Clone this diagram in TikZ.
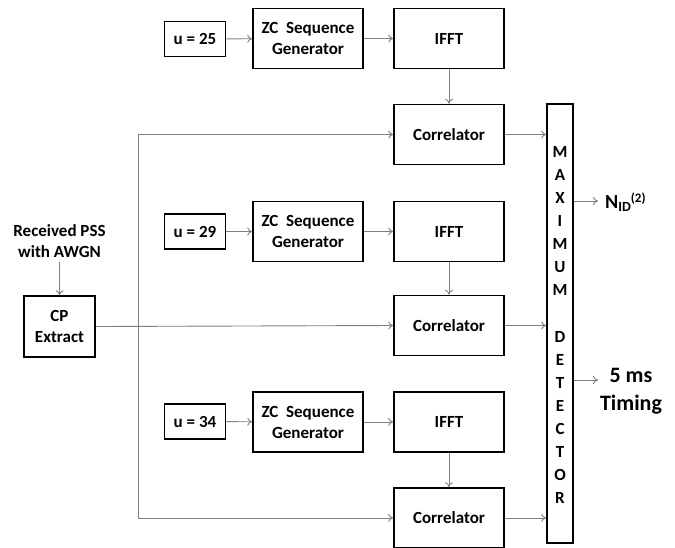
\documentclass[tikz,border=0pt]{standalone}
\usepackage{fontspec}
\setmainfont{Carlito}
\usetikzlibrary{arrows.meta}
\begin{document}
\begin{tikzpicture}[x=1pt,y=-1pt,
  blk/.style={draw=black,line width=1.6pt,minimum width=110pt,minimum height=60pt,inner sep=0pt,align=center,font=\fontsize{17}{21}\selectfont\bfseries},
  ubox/.style={blk,minimum width=61pt,minimum height=35pt},
  cpbox/.style={blk,minimum width=71pt,minimum height=61pt},
  mdbox/.style={draw=black,line width=1.6pt,minimum width=26pt,minimum height=439pt,inner sep=0pt},
  mdletter/.style={font=\fontsize{17}{17}\selectfont\bfseries,inner sep=0pt},
  gl/.style={draw=black!50,line width=0.9pt},
  arr/.style={gl,-{To[length=5pt,width=8pt]}},
  lbl/.style={font=\fontsize{17}{21}\selectfont\bfseries,align=center,inner sep=0pt}]
\useasboundingbox (0,0) rectangle (675,547);
% row 1
\node[ubox] (u1) at (195,39) {u = 25};
\node[blk] (zc1) at (308,38.5) {ZC\ \ Sequence\\Generator};
\node[blk] (if1) at (449,38.5) {IFFT};
\node[blk] (co1) at (449,134.5) {Correlator};
% row 2
\node[ubox] (u2) at (195,231.5) {u = 29};
\node[blk] (zc2) at (308,231.5) {ZC\ \ Sequence\\Generator};
\node[blk] (if2) at (449,231.5) {IFFT};
\node[blk] (co2) at (449,325.5) {Correlator};
% row 3
\node[ubox] (u3) at (195,421.5) {u = 34};
\node[blk] (zc3) at (308,422) {ZC\ \ Sequence\\Generator};
\node[blk] (if3) at (449,422) {IFFT};
\node[blk] (co3) at (449,518) {Correlator};
% input
\node[lbl] (rx) at (59.5,241) {Received PSS\\with AWGN};
\node[cpbox] (cp) at (59.5,326.5) {CP\\Extract};
\coordinate (rs) at (59.5,262);
% max detector
\node[mdbox] (md) at (560,323.5) {};
\foreach \l/\y [count=\i] in {M/152,A/175,X/198,I/221,M/244,U/267,M/290,D/337,E/360,T/383,E/406,C/429,T/452,O/475,R/498}
  \node[mdletter] (ml\i) at (560,\y) {\l};
% outputs
\coordinate (o1) at (598,201);
\coordinate (o2) at (598,380);
\node[anchor=base west,inner sep=0pt,font=\fontsize{20}{20}\selectfont\bfseries] (nid) at (605,208)
  {N\raisebox{-3pt}{\fontsize{14}{14}\selectfont ID}\raisebox{6pt}{\fontsize{13}{13}\selectfont (2)}};
\node[lbl,font=\fontsize{22}{28}\selectfont\bfseries] (tim) at (631,391) {5 ms\\Timing};
% connectors
\draw[arr] (u1) -- (zc1);
\draw[arr] (zc1) -- (if1);
\draw[arr] (if1) -- (co1);
\draw[arr] (u2) -- (zc2);
\draw[arr] (zc2) -- (if2);
\draw[arr] (if2) -- (co2);
\draw[arr] (u3) -- (zc3);
\draw[arr] (zc3) -- (if3);
\draw[arr] (if3) -- (co3);
\draw[arr] (rs) -- (cp.north);
\coordinate (bus) at (138,0);
\draw[arr] (co3.west -| bus) -- (co1.west -| bus) -- (co1.west);
\draw[arr] (co3.west -| bus) -- (co3.west);
\draw[arr] (cp.east) -- (co2.west);
\draw[arr] (co1.east) -- (co1.east -| md.west);
\draw[arr] (co2.east) -- (co2.east -| md.west);
\draw[arr] (co3.east) -- (co3.east -| md.west);
\draw[arr] (o1 -| md.east) -- (o1);
\draw[arr] (o2 -| md.east) -- (o2);
\end{tikzpicture}
\end{document}
